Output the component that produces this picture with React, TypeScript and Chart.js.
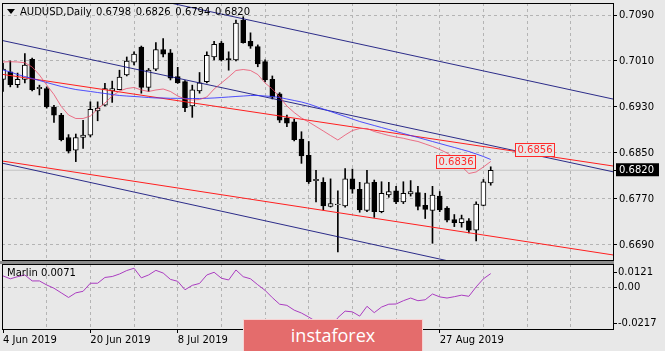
import React, { useEffect, useRef } from "react";
import { Chart, registerables } from "chart.js";

Chart.register(...registerables);

// ---- price bars (daily, 4 Jun 2019 .. 5 Sep 2019) ----
const opens = [
  0.6978, 0.6991, 0.6969, 0.6978, 0.7013, 0.6962, 0.6962, 0.6930, 0.6916, 0.6877,
  0.6855, 0.6877, 0.6881, 0.6923, 0.6933, 0.6958, 0.6960, 0.6986, 0.7008, 0.7034,
  0.6964, 0.6996, 0.7030, 0.7024, 0.6983, 0.6974, 0.6932, 0.6958, 0.6974, 0.7017,
  0.7041, 0.7014, 0.7012, 0.7081, 0.7044, 0.7035, 0.7009, 0.6978, 0.6953, 0.6911,
  0.6904, 0.6874, 0.6846, 0.6802, 0.6799, 0.6757, 0.6760, 0.6758, 0.6805, 0.6787,
  0.6750, 0.6799, 0.6748, 0.6777, 0.6784, 0.6765, 0.6779, 0.6781, 0.6759, 0.6750,
  0.6775, 0.6754, 0.6734, 0.6729, 0.6732, 0.6716, 0.6759, 0.6798,
];
const highs = [
  0.7006, 0.7010, 0.6989, 0.7023, 0.7015, 0.6968, 0.6965, 0.6933, 0.6919, 0.6882,
  0.6883, 0.6907, 0.6939, 0.6939, 0.6971, 0.6975, 0.6994, 0.7017, 0.7026, 0.7036,
  0.6997, 0.7042, 0.7049, 0.7030, 0.6999, 0.6976, 0.6968, 0.6990, 0.7026, 0.7044,
  0.7044, 0.7026, 0.7081, 0.7087, 0.7059, 0.7038, 0.7012, 0.6984, 0.6955, 0.6916,
  0.6909, 0.6887, 0.6870, 0.6820, 0.6807, 0.6805, 0.6784, 0.6823, 0.6822, 0.6799,
  0.6820, 0.6803, 0.6800, 0.6799, 0.6792, 0.6800, 0.6802, 0.6792, 0.6780, 0.6792,
  0.6783, 0.6757, 0.6743, 0.6742, 0.6736, 0.6765, 0.6804, 0.6826,
];
const lows = [
  0.6957, 0.6965, 0.6964, 0.6972, 0.6958, 0.6951, 0.6928, 0.6903, 0.6871, 0.6850,
  0.6835, 0.6858, 0.6878, 0.6906, 0.6932, 0.6938, 0.6960, 0.6984, 0.7003, 0.6954,
  0.6957, 0.6993, 0.7017, 0.6977, 0.6971, 0.6922, 0.6912, 0.6954, 0.6972, 0.7012,
  0.7010, 0.6994, 0.7010, 0.7041, 0.7032, 0.7000, 0.6974, 0.6944, 0.6903, 0.6896,
  0.6871, 0.6832, 0.6797, 0.6765, 0.6751, 0.6756, 0.6678, 0.6756, 0.6780, 0.6747,
  0.6748, 0.6738, 0.6746, 0.6773, 0.6762, 0.6762, 0.6775, 0.6751, 0.6736, 0.6693,
  0.6748, 0.6730, 0.6722, 0.6721, 0.6711, 0.6697, 0.6758, 0.6794,
];
const closes = [
  0.6996, 0.6969, 0.6978, 0.7003, 0.6960, 0.6964, 0.6930, 0.6916, 0.6873, 0.6853,
  0.6877, 0.6881, 0.6926, 0.6928, 0.6962, 0.6962, 0.6982, 0.7010, 0.7022, 0.6964,
  0.6994, 0.7030, 0.7022, 0.6980, 0.6972, 0.6929, 0.6960, 0.6972, 0.7020, 0.7039,
  0.7012, 0.7012, 0.7076, 0.7042, 0.7036, 0.7005, 0.6977, 0.6947, 0.6907, 0.6902,
  0.6873, 0.6845, 0.6800, 0.6804, 0.6758, 0.6762, 0.6761, 0.6805, 0.6787, 0.6751,
  0.6798, 0.6748, 0.6780, 0.6783, 0.6765, 0.6780, 0.6783, 0.6757, 0.6752, 0.6777,
  0.6751, 0.6733, 0.6729, 0.6736, 0.6716, 0.6761, 0.6800, 0.6820,
];

// ---- moving averages ----
const maFast = [
  0.70083, 0.70088, 0.70083, 0.70070, 0.69996, 0.69857, 0.69683, 0.69517, 0.69309, 0.69161,
  0.69100, 0.69100, 0.69143, 0.69265, 0.69370, 0.69491, 0.69578, 0.69622, 0.69639, 0.69596,
  0.69570, 0.69596, 0.69613, 0.69570, 0.69491, 0.69439, 0.69422, 0.69430, 0.69474, 0.69613,
  0.69717, 0.69822, 0.69935, 0.69952, 0.69935, 0.69865, 0.69717, 0.69613, 0.69474, 0.69317,
  0.69204, 0.69109, 0.69039, 0.68961, 0.68883, 0.68804, 0.68726, 0.68813, 0.68891, 0.68926,
  0.68926, 0.68874, 0.68839, 0.68804, 0.68778, 0.68756, 0.68726, 0.68700, 0.68657, 0.68613,
  0.68561, 0.68500, 0.68413, 0.68265, 0.68144, 0.68170, 0.68257, 0.68352,
];
const maSlow = [
  0.69943, 0.69909, 0.69865, 0.69830, 0.69796, 0.69761, 0.69726, 0.69691, 0.69657, 0.69630,
  0.69604, 0.69587, 0.69570, 0.69552, 0.69535, 0.69517, 0.69500, 0.69491, 0.69483, 0.69474,
  0.69465, 0.69457, 0.69457, 0.69451, 0.69451, 0.69448, 0.69448, 0.69448, 0.69451, 0.69457,
  0.69465, 0.69474, 0.69483, 0.69491, 0.69500, 0.69500, 0.69491, 0.69483, 0.69465, 0.69439,
  0.69413, 0.69387, 0.69352, 0.69309, 0.69265, 0.69222, 0.69178, 0.69135, 0.69091, 0.69048,
  0.69013, 0.68978, 0.68943, 0.68909, 0.68874, 0.68839, 0.68804, 0.68770, 0.68735, 0.68700,
  0.68665, 0.68630, 0.68596, 0.68561, 0.68526, 0.68483, 0.68439, 0.68387,
];

// ---- Marlin oscillator ----
const marlin = [
  0.0059, 0.0044, 0.0055, 0.0064, 0.0033, 0.0033, 0.0012, -0.0005, -0.0029, -0.0053,
  -0.0029, -0.0021, 0.0021, 0.0021, 0.0051, 0.0056, 0.0069, 0.0087, 0.0099, 0.0049,
  0.0064, 0.0088, 0.0074, 0.0041, 0.0031, -0.0013, 0.0010, 0.0020, 0.0064, 0.0078,
  0.0047, 0.0038, 0.0090, 0.0055, 0.0044, 0.0013, -0.0016, -0.0054, -0.0088, -0.0094,
  -0.0119, -0.0134, -0.0155, -0.0178, -0.0204, -0.0217, -0.0158, -0.0124, -0.0128, -0.0150,
  -0.0099, -0.0132, -0.0103, -0.0088, -0.0087, -0.0070, -0.0056, -0.0070, -0.0065, -0.0035,
  -0.0050, -0.0056, -0.0049, -0.0041, -0.0047, 0.0002, 0.0044, 0.0071,
];

// ---- trend channels (bar index, price) ----
const trendBars = [-1, 84];
const navyTop = [0.71768, 0.69433];
const navyMid = [0.70481, 0.68168];
const navyLow = [0.68348, 0.6599];
const redTop = [0.69885, 0.6827];
const redLow = [0.68378, 0.66723];

// ---- price tags ----
const tagBars = [62.2, 73.0];
const tagPrices = [0.6836, 0.6856];

// ---- axes ----
const priceTicks = [0.709, 0.701, 0.693, 0.685, 0.677, 0.669];
const priceMin = 0.666391;
const priceMax = 0.711087;
const gridBars = [0, 6, 12, 18, 24, 30, 36, 42, 48, 54, 60, 66, 72, 78];
const dateLabelBars = [0, 12, 24, 36, 48, 60];
const dateLabels = ["4 Jun 2019", "20 Jun 2019", "8 Jul 2019", "24 Jul 2019", "9 Aug 2019", "27 Aug 2019"];
const marlinMin = -0.0217;
const marlinMax = 0.0121;
const marlinTickAt = [-0.0188, 0, 0.0079];
const marlinTickLabels = ["-0.0217", "0.00", "0.0121"];

const BG = "#e8e8e8";
const GRID = "#b4b4b4";
const FONT = "DejaVu Sans";
const CLEAR = "rgba(0,0,0,0)";

export default function App() {
  const priceRef = useRef<HTMLCanvasElement | null>(null);
  const indRef = useRef<HTMLCanvasElement | null>(null);
  const n = closes.length;

  useEffect(() => {
    document.body.style.margin = "0";
    document.body.style.background = BG;
    Chart.defaults.font.family = FONT;
    const bars = closes.map((_, i) => i);
    const last = closes[n - 1];
    const X_MIN = -0.14;
    const X_MAX = 83.8;
    const font = { family: FONT, size: 10 };
    const isCur = (c: any) => !!c.tick && Math.abs(c.tick.value - last) < 1e-9;

    const frame = {
      id: "frame",
      afterDraw(chart: any) {
        const { ctx, chartArea: a } = chart;
        ctx.save();
        ctx.strokeStyle = "#000";
        ctx.lineWidth = 1;
        ctx.strokeRect(a.left + 0.5, a.top + 0.5, a.right - a.left, a.bottom - a.top);
        ctx.restore();
      },
    };

    const tags = {
      id: "tags",
      afterDatasetsDraw(chart: any) {
        const { ctx } = chart;
        const xs = chart.scales.x;
        const ys = chart.scales.y;
        ctx.save();
        ctx.font = `10px '${FONT}'`;
        tagBars.forEach((b, k) => {
          const cx = xs.getPixelForValue(b);
          const cy = ys.getPixelForValue(tagPrices[k]);
          const text = tagPrices[k].toFixed(4);
          const w = Math.round(ctx.measureText(text).width + 4);
          const h = 13;
          const l = Math.round(cx - w / 2) + 0.5;
          const t = Math.round(cy - h / 2) + 0.5;
          ctx.fillStyle = BG;
          ctx.fillRect(l, t, w, h);
          ctx.strokeStyle = "#ff2a2a";
          ctx.lineWidth = 1;
          ctx.strokeRect(l, t, w, h);
          ctx.fillStyle = "#ff2a2a";
          ctx.textAlign = "center";
          ctx.textBaseline = "middle";
          ctx.fillText(text, l + w / 2, t + h / 2 + 0.5);
        });
        ctx.restore();
      },
    };

    const line = (data: any[], color: string, order: number) => ({
      type: "line",
      data,
      borderColor: color,
      borderWidth: 1,
      pointRadius: 0,
      tension: 0,
      order,
    });
    const trend = (vals: number[]) => trendBars.map((b, k) => ({ x: b, y: vals[k] }));

    const priceChart = new Chart(priceRef.current as HTMLCanvasElement, {
      type: "bar",
      data: {
        datasets: [
          line([{ x: -1, y: last }, { x: 90, y: last }], "#c4c4c4", 10),
          {
            type: "bar",
            data: bars.map((i) => ({ x: i, y: [lows[i], highs[i]] })),
            backgroundColor: "#000",
            barThickness: 1,
            grouped: false,
            order: 6,
          },
          {
            type: "bar",
            data: bars.map((i) => ({
              x: i,
              y: [Math.min(opens[i], closes[i]), Math.max(opens[i], closes[i])],
            })),
            backgroundColor: bars.map((i) => (closes[i] >= opens[i] ? "#ffffff" : "#000000")),
            borderColor: "#000",
            borderWidth: 1,
            borderSkipped: false,
            barThickness: 5,
            grouped: false,
            order: 5,
          },
          line(trend(navyTop), "rgba(10,10,120,0.85)", 3),
          line(trend(navyMid), "rgba(10,10,120,0.85)", 3),
          line(trend(navyLow), "rgba(10,10,120,0.85)", 3),
          line(trend(redTop), "#ff1e1e", 2),
          line(trend(redLow), "#ff1e1e", 2),
          line(bars.map((i) => ({ x: i, y: maSlow[i] })), "rgba(50,50,255,0.85)", 1),
          line(bars.map((i) => ({ x: i, y: maFast[i] })), "rgba(235,70,100,0.75)", 0),
        ] as any,
      },
      options: {
        responsive: false,
        animation: false,
        events: [],
        layout: { padding: { left: 2, top: 3, right: 0, bottom: 1 } },
        plugins: { legend: { display: false }, tooltip: { enabled: false } },
        scales: {
          x: {
            type: "linear",
            min: X_MIN,
            max: X_MAX,
            offset: false,
            afterBuildTicks: (s: any) => {
              s.ticks = gridBars.map((v) => ({ value: v }));
            },
            afterFit: (s: any) => {
              s.height = 0;
              s.paddingLeft = 0;
              s.paddingRight = 0;
            },
            ticks: { display: false },
            grid: {
              offset: false,
              drawTicks: false,
              color: (c: any) => (c.tick && c.tick.value === 0 ? CLEAR : GRID),
            },
            border: { display: false, dash: [3, 3] },
          },
          y: {
            type: "linear",
            position: "right",
            min: priceMin,
            max: priceMax,
            afterBuildTicks: (s: any) => {
              s.ticks = [...priceTicks, last].sort((a, b) => a - b).map((v) => ({ value: v }));
            },
            afterFit: (s: any) => {
              s.width = 52;
              s.paddingTop = 0;
              s.paddingBottom = 0;
            },
            ticks: {
              autoSkip: false,
              font,
              padding: 2,
              color: (c: any) => (isCur(c) ? "#ffffff" : "#000000"),
              callback: (v: any) => Number(v).toFixed(4),
              showLabelBackdrop: (c: any) => isCur(c),
              backdropColor: "#000",
              backdropPadding: { left: 3, right: 5, top: 1, bottom: 0 },
            },
            grid: {
              color: (c: any) => (isCur(c) ? CLEAR : GRID),
              tickLength: 4,
              tickColor: "#000",
              drawTicks: true,
            },
            border: { display: false, dash: [3, 3] },
          },
        },
      } as any,
      plugins: [frame, tags],
    });

    const indChart = new Chart(indRef.current as HTMLCanvasElement, {
      type: "line",
      data: {
        datasets: [
          {
            data: bars.map((i) => ({ x: i, y: marlin[i] })),
            borderColor: "#aa3cc0",
            borderWidth: 1,
            pointRadius: 0,
            tension: 0,
          },
        ] as any,
      },
      options: {
        responsive: false,
        animation: false,
        events: [],
        layout: { padding: { left: 2, top: 2, right: 0, bottom: 0 } },
        plugins: { legend: { display: false }, tooltip: { enabled: false } },
        scales: {
          x: {
            type: "linear",
            min: X_MIN,
            max: X_MAX,
            offset: false,
            afterBuildTicks: (s: any) => {
              s.ticks = gridBars.map((v) => ({ value: v }));
            },
            afterFit: (s: any) => {
              s.height = 22;
              s.paddingLeft = 0;
              s.paddingRight = 0;
            },
            ticks: {
              autoSkip: false,
              maxRotation: 0,
              minRotation: 0,
              align: "start",
              font,
              color: "#000",
              padding: 1,
              callback: (v: any) => {
                const k = dateLabelBars.indexOf(Number(v));
                return k >= 0 ? dateLabels[k] : "";
              },
            },
            grid: {
              offset: false,
              tickLength: 4,
              drawTicks: true,
              color: (c: any) => (c.tick && c.tick.value === 0 ? CLEAR : GRID),
              tickColor: (c: any) =>
                c.tick && dateLabelBars.indexOf(c.tick.value) >= 0 ? "#000" : CLEAR,
            },
            border: { display: false, dash: [3, 3] },
          },
          y: {
            type: "linear",
            position: "right",
            min: marlinMin,
            max: marlinMax,
            afterBuildTicks: (s: any) => {
              s.ticks = marlinTickAt.map((v) => ({ value: v }));
            },
            afterFit: (s: any) => {
              s.width = 52;
              s.paddingTop = 0;
              s.paddingBottom = 0;
            },
            ticks: {
              autoSkip: false,
              font,
              color: "#000",
              padding: 1,
              callback: (_v: any, i: number) => marlinTickLabels[i],
            },
            grid: {
              tickLength: 4,
              tickColor: "#000",
              drawTicks: true,
              color: (c: any) => (c.tick && c.tick.value === 0 ? GRID : CLEAR),
            },
            border: { display: false, dash: [3, 3] },
          },
        },
      } as any,
      plugins: [frame],
    });

    return () => {
      priceChart.destroy();
      indChart.destroy();
    };
  }, []);

  const txt: React.CSSProperties = {
    position: "absolute",
    fontFamily: FONT,
    fontSize: 10,
    lineHeight: "12px",
    color: "#000",
    whiteSpace: "pre",
  };
  const ohlc = [opens[n - 1], highs[n - 1], lows[n - 1], closes[n - 1]].map((v) => v.toFixed(4)).join(" ");

  return (
    <div style={{ position: "relative", width: 665, height: 351, background: BG, overflow: "hidden" }}>
      <canvas ref={priceRef} width={665} height={261} style={{ position: "absolute", left: 0, top: 0, width: 665, height: 261 }} />
      <canvas ref={indRef} width={665} height={89} style={{ position: "absolute", left: 0, top: 262, width: 665, height: 89 }} />
      <div style={{ position: "absolute", left: 0, top: 261, width: 614, height: 3, background: "#8c8c8c" }} />
      <div
        style={{
          position: "absolute",
          left: 7,
          top: 9,
          width: 0,
          height: 0,
          borderLeft: "4px solid transparent",
          borderRight: "4px solid transparent",
          borderTop: "5px solid #000",
        }}
      />
      <div style={{ ...txt, left: 20, top: 6 }}>AUDUSD,Daily</div>
      <div style={{ ...txt, left: 96, top: 6, wordSpacing: 1.5 }}>{ohlc}</div>
      <div style={{ ...txt, left: 7, top: 267 }}>{"Marlin " + marlin[n - 1].toFixed(4)}</div>
      <div
        style={{
          position: "absolute",
          left: 243,
          top: 319,
          width: 180,
          height: 33,
          boxSizing: "border-box",
          background: "#e46c6c",
          borderTop: "1px solid rgba(255,255,255,0.7)",
          borderLeft: "1px solid rgba(255,255,255,0.7)",
          borderRight: "1px solid rgba(255,255,255,0.7)",
          color: "#fff",
          fontFamily: "'Open Sans'",
          fontSize: 18,
          lineHeight: "31px",
          textAlign: "center",
        }}
      >
        instaforex
      </div>
    </div>
  );
}
